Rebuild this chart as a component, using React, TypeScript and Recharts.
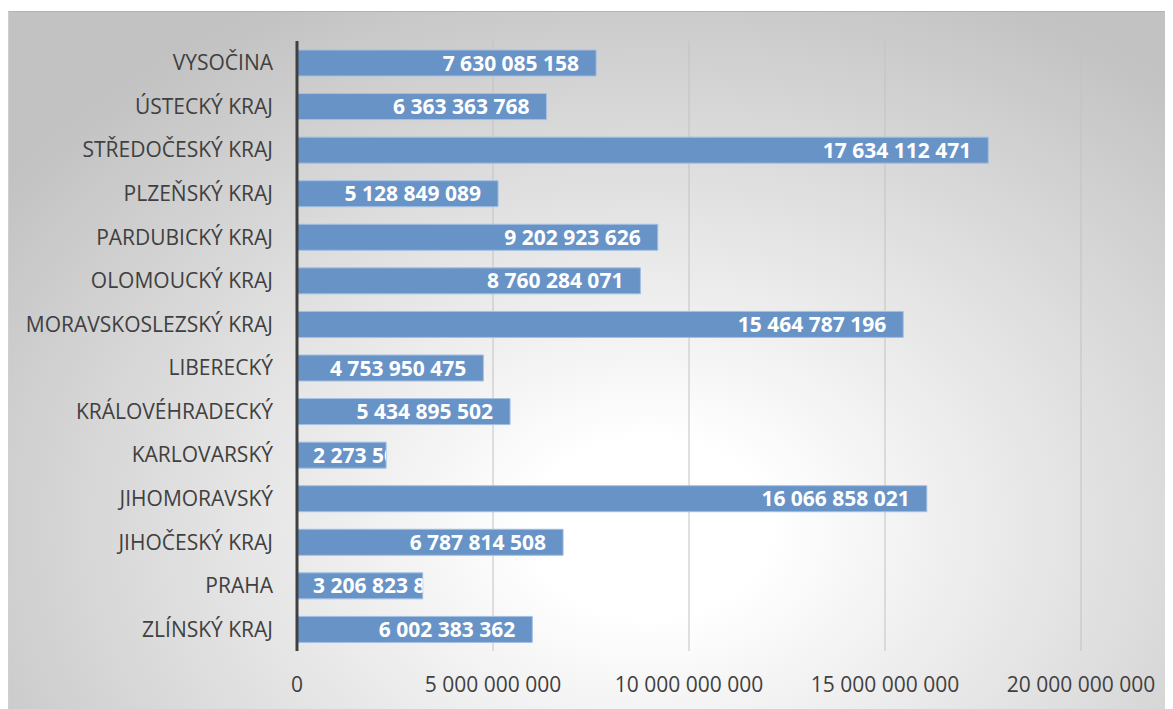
import React from "react";
import { Bar, BarChart, CartesianGrid, LabelList, XAxis, YAxis } from "recharts";

const CATEGORIES = [
  "VYSOČINA",
  "ÚSTECKÝ KRAJ",
  "STŘEDOČESKÝ KRAJ",
  "PLZEŇSKÝ KRAJ",
  "PARDUBICKÝ KRAJ",
  "OLOMOUCKÝ KRAJ",
  "MORAVSKOSLEZSKÝ KRAJ",
  "LIBERECKÝ",
  "KRÁLOVÉHRADECKÝ",
  "KARLOVARSKÝ",
  "JIHOMORAVSKÝ",
  "JIHOČESKÝ KRAJ",
  "PRAHA",
  "ZLÍNSKÝ KRAJ",
];

const VALUES = [
  7630085158, 6363363768, 17634112471, 5128849089, 9202923626, 8760284071, 15464787196,
  4753950475, 5434895502, 2273500000, 16066858021, 6787814508, 3206823850, 6002383362,
];

const X_TICKS = [0, 5000000000, 10000000000, 15000000000, 20000000000];

const data = CATEGORIES.map((name, i) => ({ name, value: VALUES[i] }));

const fmt = (n: number) => String(Math.round(n)).replace(/\B(?=(\d{3})+(?!\d))/g, " ");

const FONT = "'Open Sans', 'DejaVu Sans', sans-serif";
const LABEL_FONT_SIZE = 21;

let ctx: CanvasRenderingContext2D | null = null;
function measure(text: string) {
  if (!ctx) ctx = document.createElement("canvas").getContext("2d");
  if (!ctx) return text.length * 11;
  ctx.font = `bold ${LABEL_FONT_SIZE}px 'Open Sans'`;
  return ctx.measureText(text).width;
}

function BarLabel(props: any) {
  const { x, y, width, height, value, index } = props;
  const text = fmt(value);
  const w = measure(text);
  const tx = Math.max(x + 16, x + width - 17 - w);
  const id = `bar-clip-${index}`;
  return (
    <g>
      <defs>
        <clipPath id={id}>
          <rect x={x} y={y} width={width} height={height} />
        </clipPath>
      </defs>
      <text
        x={tx}
        y={y + height / 2}
        dy="0.36em"
        fill="#ffffff"
        fontWeight="bold"
        fontSize={LABEL_FONT_SIZE}
        fontFamily={FONT}
        clipPath={`url(#${id})`}
      >
        {text}
      </text>
    </g>
  );
}

function YTick({ x, y, payload }: any) {
  return (
    <text x={x - 16} y={y} dy="0.36em" textAnchor="end" fill="#404040" fontSize={21} fontFamily={FONT}>
      {payload.value}
    </text>
  );
}

function XTick({ x, y, payload }: any) {
  return (
    <text x={x} y={y} dy={33} textAnchor="middle" fill="#404040" fontSize={21} fontFamily={FONT}>
      {fmt(payload.value)}
    </text>
  );
}

export default function App() {
  return (
    <div
      style={{
        marginTop: 3,
        width: 1165,
        height: 697,
        borderTop: "1px solid #b3b3b3",
        borderLeft: "1px solid #cfcfcf",
        background: "radial-gradient(ellipse 68% 85% at 55% 74%, #ffffff 0%, #ffffff 15%, #c2c2c2 100%)",
      }}
    >
      <BarChart
        width={1164}
        height={696}
        data={data}
        layout="vertical"
        margin={{ top: 29, right: 92, bottom: 0, left: 0 }}
        barSize={26}
      >
        <CartesianGrid horizontal={false} stroke="#c2c2c2" />
        <XAxis
          type="number"
          domain={[0, 20000000000]}
          ticks={X_TICKS}
          axisLine={false}
          tickLine={false}
          height={57}
          tick={<XTick />}
          interval={0}
        />
        <YAxis
          type="category"
          dataKey="name"
          width={288}
          axisLine={{ stroke: "#404040", strokeWidth: 3 }}
          tickLine={false}
          tick={<YTick />}
          interval={0}
        />
        <Bar dataKey="value" fill="#6893c7" stroke="#a3bfe2" strokeWidth={1} isAnimationActive={false}>
          <LabelList dataKey="value" content={<BarLabel />} />
        </Bar>
      </BarChart>
    </div>
  );
}
